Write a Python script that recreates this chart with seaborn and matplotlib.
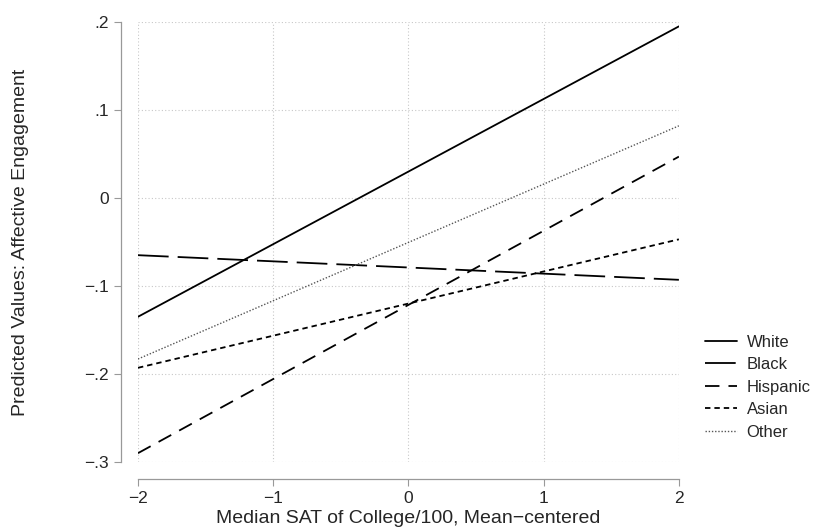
import numpy as np
import pandas as pd
import seaborn as sns
import matplotlib.pyplot as plt

# Predicted values at the ends of the SAT range
sat = [-2, 2]
white = [-0.135, 0.195]
black = [-0.065, -0.093]
hispanic = [-0.290, 0.047]
asian = [-0.193, -0.047]
other = [-0.183, 0.082]

groups = ["White", "Black", "Hispanic", "Asian", "Other"]
values = [white, black, hispanic, asian, other]

rows = []
for g, v in zip(groups, values):
    for x, y in zip(sat, v):
        rows.append({"sat": x, "pred": y, "group": g})
df = pd.DataFrame(rows)

sns.set_style("white")
plt.rcParams["font.family"] = ["Liberation Sans", "DejaVu Sans"]

fig = plt.figure(figsize=(8.14, 5.31), dpi=100)
ax = fig.add_axes([0.1695, 0.130, 0.6645, 0.8286])

styles = {
    "White": dict(color="black", linestyle="-", linewidth=1.3),
    "Black": dict(color="black", linestyle=(0, (17, 5)), linewidth=1.3),
    "Hispanic": dict(color="black", linestyle=(0, (8, 5)), linewidth=1.3),
    "Asian": dict(color="black", linestyle=(0, (3, 2.2)), linewidth=1.3),
    "Other": dict(color="#555555", linestyle=(0, (1, 1.3)), linewidth=1.0),
}
for g in groups:
    sub = df[df["group"] == g]
    sns.lineplot(data=sub, x="sat", y="pred", ax=ax, label=g, **styles[g])

ax.set_xlim(-2, 2)
ax.set_ylim(-0.3, 0.2)
xt = [-2, -1, 0, 1, 2]
yt = [-0.3, -0.2, -0.1, 0, 0.1, 0.2]
ax.set_xticks(xt)
ax.set_xticklabels(["\u22122", "\u22121", "0", "1", "2"])
ax.set_yticks(yt)
ax.set_yticklabels(["\u2212.3", "\u2212.2", "\u2212.1", "0", ".1", ".2"])
ax.grid(True, color="#c8c8c8", linestyle=(0, (1, 2)), linewidth=0.8)
ax.tick_params(axis="both", direction="out", length=5, width=0.8, color="#999999",
               labelsize=12.5, bottom=True, left=True, pad=4)
for s in ax.spines.values():
    s.set_color("#999999")
    s.set_linewidth(0.9)
sns.despine(ax=ax, offset=12, trim=True)

ax.set_xlabel("Median SAT of College/100, Mean\u2212centered", fontsize=14, labelpad=3)
ax.set_ylabel("Predicted Values: Affective Engagement", fontsize=14, labelpad=40)

ax.legend(loc="center left", bbox_to_anchor=(1.048, 0.17), frameon=False,
          fontsize=12, handlelength=1.9, labelspacing=0.45, handletextpad=0.6,
          borderaxespad=0, borderpad=0)

fig.savefig("out.png", dpi=100)
